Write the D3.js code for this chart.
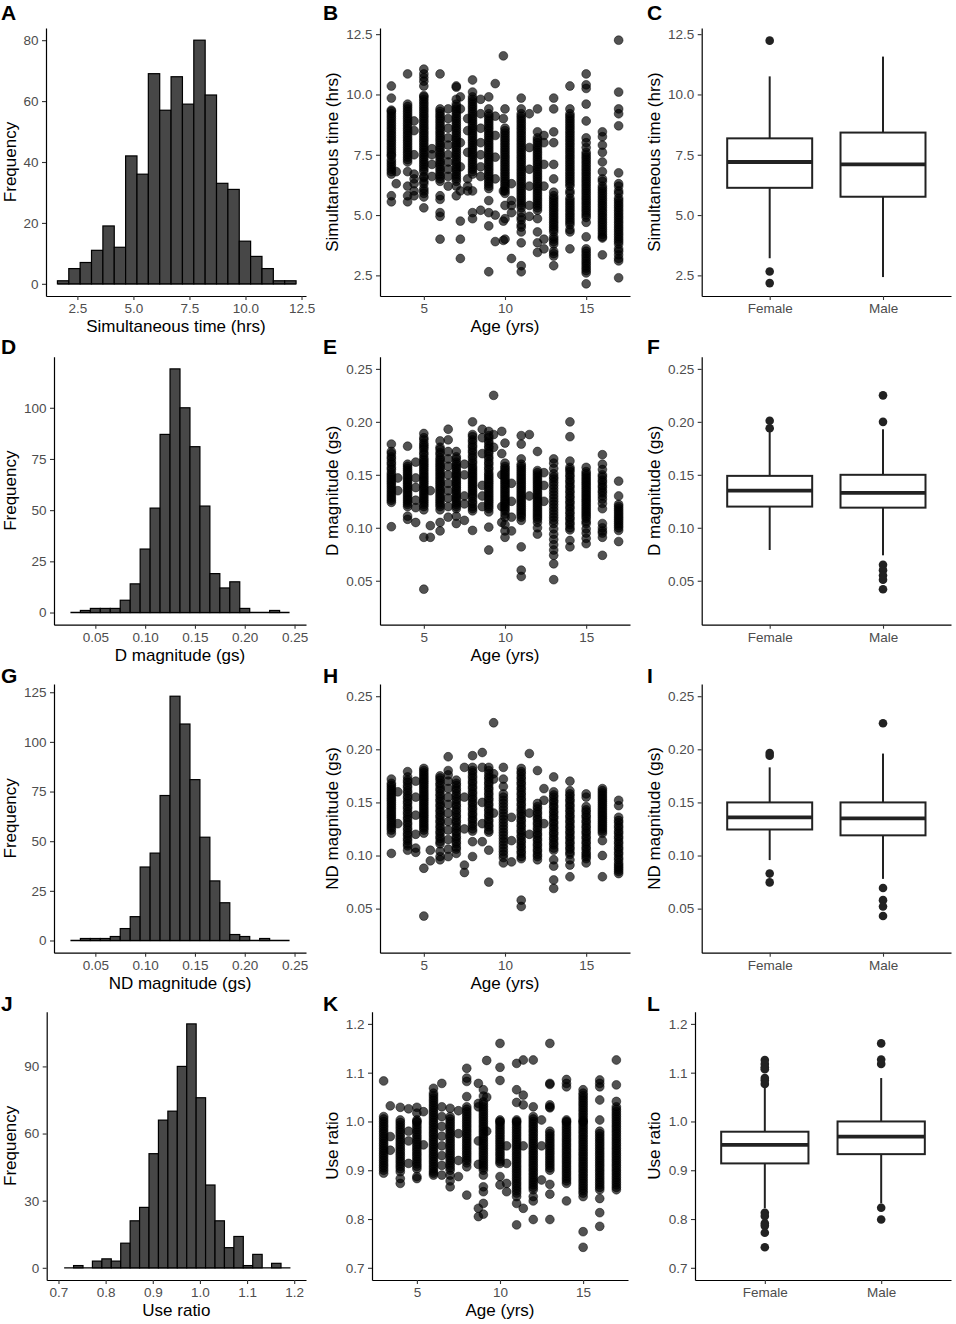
<!DOCTYPE html>
<html>
<head>
<meta charset="utf-8">
<script src="https://cdnjs.cloudflare.com/ajax/libs/d3/7.8.5/d3.min.js"></script>
<style>
  body { margin: 0; background: #fff; }
  svg { font-family: "Liberation Sans", Arial, sans-serif; }
</style>
</head>
<body>
<svg id="fig" width="956" height="1324"></svg>
<script>
// ---- histogram counts ----
const simCounts = [1,5,7,11,19,12,42,36,69,57,68,59,80,62,33,31,14,9,5,1,1];
const simBinStart = 1.61, simBinWidth = 0.507;
const dCounts = [0,1,2,2,2,6,14,31,51,87,119,100,81,52,19,12,15,2,0,0,1,0];
const ndCounts = [0,1,1,1,2,6,12,37,44,73,123,109,81,52,30,19,3,2,0,1,0,0];
const magBinStart = 0.025, magBinWidth = 0.01;
const ratioCounts = [0,1,0,3,4,3,11,21,27,51,66,70,90,109,76,37,21,9,14,1,6,0,2,0];
const ratioBinStart = 0.712, ratioBinWidth = 0.02;

// ---- scatter: [age, values at that age] ----
const simByAge = [
  [3, [10.35,9.85,9.35,9.2,9.0,8.8,8.6,8.4,8.2,8.0,7.8,7.6,7.45,7.3,7.1,6.9,6.7,5.8,5.55]],
  [3.3, [6.8,6.3]],
  [4, [10.85,9.6,9.4,9.2,9.0,8.8,8.6,8.4,8.2,8.0,7.8,7.6,7.4,7.2,6.8,6.2,5.8,5.55]],
  [4.4, [8.9,8.5,7.5,6.7,6.5,6.3,6.0,5.8]],
  [5, [11.05,10.85,10.7,10.55,10.35,9.95,9.8,9.6,9.4,9.2,9.0,8.8,8.6,8.4,8.2,8.0,7.8,7.6,7.4,7.2,7.0,6.8,6.55,6.3,6.0,5.75,5.3]],
  [5.5, [7.75,7.5,7.1,6.6]],
  [6, [10.85,9.4,9.2,9.0,8.8,8.6,8.4,8.2,8.0,7.8,7.6,7.4,7.2,7.0,6.8,6.6,6.4,5.8,5.65,5.1,4.95,4.0]],
  [6.5, [9.4,9.0,8.6,8.2,7.9,7.5,7.2,6.9,6.6,6.2]],
  [7, [10.35,10.3,9.8,9.6,9.4,9.2,9.0,8.8,8.6,8.4,8.2,8.0,7.8,7.6,7.4,7.2,7.0,6.8,6.6,6.4,6.2,5.8]],
  [7.25, [9.9,9.4,8.0,7.0,6.0,4.75,4.0,3.2]],
  [7.7, [9.0,8.5,7.6,6.5,6.2,6.0]],
  [8, [10.6,10.1,9.9,9.7,9.5,9.3,9.1,8.9,8.7,8.5,8.3,8.1,7.9,7.7,7.5,7.3,7.1,6.9,6.7,6.0,5.1,4.85]],
  [8.5, [9.8,9.2,8.6,8.0,7.5,7.0,6.6,5.2]],
  [9, [9.9,9.4,9.2,9.0,8.8,8.6,8.4,8.2,8.0,7.8,7.6,7.4,7.2,7.0,6.8,6.6,6.4,6.2,5.6,5.1,4.55,2.65]],
  [9.4, [10.45,9.1,8.3,7.4,6.5,5.0,3.9]],
  [9.9, [11.6,9.0,6.0,4.75,3.95]],
  [10, [9.4,8.6,8.4,8.2,8.0,7.8,7.6,7.4,7.2,7.0,6.8,6.6,6.4,6.2,6.0,5.4,4.85,4.0]],
  [10.4, [6.3,5.6,5.4,5.1,3.2]],
  [11, [9.85,9.4,9.2,9.0,8.8,8.6,8.4,8.2,8.0,7.8,7.6,7.4,7.2,7.0,6.8,6.6,6.4,6.2,6.0,5.8,5.6,5.4,5.1,4.8,4.5,4.3,3.85,2.9,2.65]],
  [11.5, [9.2,7.8,6.9,6.2,5.4,4.95]],
  [12, [9.4,8.45,8.2,8.0,7.8,7.6,7.4,7.2,7.0,6.8,6.6,6.4,6.2,6.0,5.8,5.6,5.4,5.2,4.85,4.3,3.85,3.45]],
  [12.4, [8.3,8.0,7.1,6.2,4.0,3.6]],
  [13, [9.85,9.4,8.45,8.0,7.1,6.5,5.95,5.7,5.5,5.3,5.1,4.9,4.7,4.5,4.3,4.0,3.8,3.5,3.3,2.9]],
  [14, [10.35,9.4,9.2,9.0,8.8,8.6,8.4,8.2,8.0,7.8,7.6,7.4,7.2,7.0,6.8,6.6,6.4,6.2,5.9,5.6,5.4,5.2,5.0,4.8,4.6,4.3,3.6]],
  [15, [10.85,10.4,10.25,9.6,8.9,8.2,8.0,7.8,7.6,7.4,7.2,7.0,6.8,6.6,6.4,6.2,6.0,5.8,5.6,5.4,5.2,5.0,4.7,4.1,3.6,3.4,3.2,3.0,2.8,2.6,2.15]],
  [16, [8.45,8.25,7.9,7.6,7.2,6.8,6.5,6.2,6.0,5.8,5.6,5.4,5.2,5.0,4.8,4.6,4.4,4.2,4.05,3.35]],
  [17, [12.25,10.1,9.4,9.2,8.7,6.75,6.3,6.0,5.7,5.5,5.3,5.1,4.9,4.7,4.5,4.3,4.1,3.9,3.6,3.35,3.1,2.4]]
];
// the black cores of the age columns hold many more children
const simByAgeCore = [
  [3, [9.3,9.1,8.9,8.7,8.5,8.3,8.1,7.9,7.7,7.5,7.2,7.0,6.8]],
  [4, [9.5,9.3,9.1,8.9,8.7,8.5,8.3,8.1,7.9,7.7,7.5,7.3]],
  [5, [9.9,9.7,9.5,9.3,9.1,8.9,8.7,8.5,8.3,8.1,7.9,7.7,7.5,7.3,7.1,6.9,6.6,6.4,6.1,5.9]],
  [6, [9.3,9.1,8.9,8.7,8.5,8.3,8.1,7.9,7.7,7.5,7.3,7.1,6.9,6.7,6.5]],
  [7, [9.5,9.3,9.1,8.9,8.7,8.5,8.3,8.1,7.9,7.7,7.5,7.3,7.1,6.9,6.7,6.5]],
  [8, [9.8,9.6,9.4,9.2,9.0,8.8,8.6,8.4,8.2,8.0,7.8,7.6,7.4,7.2,7.0,6.8]],
  [9, [9.1,8.9,8.7,8.5,8.3,8.1,7.9,7.7,7.5,7.3,7.1,6.9,6.7,6.5,6.3,6.1]],
  [10, [8.5,8.3,8.1,7.9,7.7,7.5,7.3,7.1,6.9,6.7,6.5,6.3,6.1,5.9]],
  [11, [9.1,8.9,8.7,8.5,8.3,8.1,7.9,7.7,7.5,7.3,7.1,6.9,6.7,6.5,6.3,6.1,5.9,5.7,5.5,5.3,4.9,4.6]],
  [12, [8.1,7.9,7.7,7.5,7.3,7.1,6.9,6.7,6.5,6.3,6.1,5.9,5.7,5.5,5.3]],
  [13, [5.8,5.6,5.4,5.2,5.0,4.8,4.6,4.4,4.1,3.9,3.4]],
  [14, [9.1,8.9,8.7,8.5,8.3,8.1,7.9,7.7,7.5,7.3,7.1,6.9,6.7,6.5,6.3,6.0,5.7,5.5,5.3,5.1,4.9,4.7,4.4]],
  [15, [7.5,7.3,7.1,6.9,6.7,6.5,6.3,6.1,5.9,5.7,5.5,5.3,5.1,4.9,3.5,3.3,3.1,2.9,2.7]],
  [16, [6.4,6.1,5.9,5.7,5.5,5.3,5.1,4.9,4.7,4.5,4.3,4.1]],
  [17, [6.2,5.9,5.6,5.4,5.2,5.0,4.8,4.6,4.4,4.2,4.0,3.8,3.5,3.2]]
];
const dByAge = [
  [3, [0.179,0.172,0.167,0.162,0.157,0.152,0.148,0.144,0.14,0.136,0.132,0.128,0.124,0.101]],
  [3.4, [0.147,0.135]],
  [4, [0.177,0.16,0.156,0.152,0.148,0.144,0.14,0.136,0.132,0.128,0.124,0.12,0.111,0.108]],
  [4.5, [0.162,0.147,0.138,0.126,0.119,0.105]],
  [5, [0.189,0.185,0.18,0.176,0.171,0.166,0.162,0.158,0.154,0.15,0.146,0.142,0.138,0.134,0.13,0.126,0.122,0.117,0.091,0.042]],
  [5.4, [0.102,0.091,0.135]],
  [6, [0.182,0.176,0.171,0.166,0.162,0.158,0.154,0.15,0.146,0.142,0.138,0.134,0.13,0.126,0.122,0.117,0.105,0.097]],
  [6.5, [0.193,0.183,0.172,0.165,0.158,0.15,0.142,0.135,0.128,0.12,0.11]],
  [7, [0.172,0.167,0.162,0.158,0.154,0.15,0.146,0.142,0.138,0.134,0.13,0.126,0.122,0.118,0.111,0.104]],
  [7.5, [0.16,0.15,0.13,0.1225,0.107]],
  [8, [0.2,0.188,0.183,0.178,0.173,0.168,0.163,0.158,0.154,0.15,0.146,0.142,0.138,0.134,0.13,0.125,0.12,0.116,0.0975]],
  [8.6, [0.193,0.185,0.17,0.14,0.13,0.12]],
  [9, [0.191,0.187,0.182,0.177,0.172,0.167,0.162,0.157,0.152,0.148,0.144,0.14,0.136,0.132,0.128,0.124,0.12,0.115,0.1006,0.079]],
  [9.3, [0.225,0.188,0.176]],
  [9.8, [0.191,0.17,0.15,0.12,0.105]],
  [10, [0.18,0.161,0.156,0.152,0.148,0.144,0.14,0.136,0.132,0.128,0.124,0.12,0.116,0.11,0.103,0.097,0.091]],
  [10.4, [0.142,0.125,0.11,0.097]],
  [11, [0.187,0.179,0.165,0.16,0.156,0.152,0.148,0.144,0.14,0.136,0.132,0.128,0.124,0.12,0.116,0.112,0.107,0.082,0.06,0.054]],
  [11.5, [0.188,0.13]],
  [12, [0.172,0.154,0.15,0.146,0.142,0.138,0.134,0.13,0.126,0.122,0.118,0.114,0.11,0.105,0.1,0.094]],
  [12.4, [0.152,0.14,0.125]],
  [13, [0.165,0.161,0.156,0.151,0.146,0.14,0.134,0.128,0.122,0.116,0.11,0.104,0.099,0.094,0.089,0.084,0.079,0.074,0.066,0.051]],
  [14, [0.2,0.186,0.163,0.157,0.153,0.148,0.143,0.138,0.133,0.128,0.123,0.118,0.113,0.108,0.103,0.098,0.088,0.082]],
  [15, [0.157,0.153,0.149,0.145,0.141,0.137,0.133,0.129,0.125,0.121,0.117,0.113,0.109,0.104,0.099,0.095,0.09,0.085]],
  [16, [0.169,0.16,0.155,0.15,0.145,0.14,0.135,0.13,0.123,0.118,0.104,0.1,0.095,0.091,0.074]],
  [17, [0.144,0.13,0.122,0.118,0.114,0.11,0.106,0.102,0.0975,0.087]]
];
const dByAgeCore = [
  [3, [0.17,0.165,0.16,0.155,0.15,0.146,0.142,0.138,0.134,0.13,0.126]],
  [4, [0.158,0.154,0.15,0.146,0.142,0.138,0.134,0.13,0.126,0.122]],
  [5, [0.183,0.178,0.174,0.169,0.164,0.16,0.156,0.152,0.148,0.144,0.14,0.136,0.132,0.128,0.124,0.12]],
  [6, [0.174,0.169,0.164,0.16,0.156,0.152,0.148,0.144,0.14,0.136,0.132,0.128,0.124,0.12]],
  [7, [0.165,0.16,0.156,0.152,0.148,0.144,0.14,0.136,0.132,0.128,0.124,0.12]],
  [8, [0.186,0.181,0.176,0.171,0.166,0.161,0.156,0.152,0.148,0.144,0.14,0.136,0.132,0.128,0.123,0.118]],
  [9, [0.185,0.18,0.175,0.17,0.165,0.16,0.155,0.15,0.146,0.142,0.138,0.134,0.13,0.126,0.122,0.118]],
  [10, [0.158,0.154,0.15,0.146,0.142,0.138,0.134,0.13,0.126,0.122,0.118,0.113]],
  [11, [0.158,0.154,0.15,0.146,0.142,0.138,0.134,0.13,0.126,0.122,0.118,0.114,0.11]],
  [12, [0.152,0.148,0.144,0.14,0.136,0.132,0.128,0.124,0.12,0.116,0.112,0.108]],
  [13, [0.148,0.143,0.137,0.131,0.125,0.119,0.113,0.107]],
  [14, [0.155,0.15,0.145,0.14,0.135,0.13,0.125,0.12,0.115,0.11,0.105,0.1]],
  [15, [0.151,0.147,0.143,0.139,0.135,0.131,0.127,0.123,0.119,0.115,0.111,0.106]],
  [16, [0.148,0.143,0.138,0.133,0.127,0.097]],
  [17, [0.12,0.116,0.112,0.108,0.104,0.1]]
];
const ndByAge = [
  [3, [0.172,0.168,0.164,0.16,0.156,0.152,0.148,0.144,0.14,0.136,0.132,0.128,0.124,0.121,0.102]],
  [3.4, [0.16,0.13]],
  [4, [0.179,0.174,0.169,0.164,0.159,0.154,0.149,0.144,0.139,0.134,0.129,0.124,0.119,0.114,0.109,0.105]],
  [4.5, [0.17,0.155,0.138,0.12,0.107,0.103]],
  [5, [0.182,0.178,0.174,0.17,0.166,0.162,0.158,0.154,0.15,0.146,0.142,0.138,0.134,0.13,0.126,0.121,0.088,0.043]],
  [5.4, [0.105,0.095]],
  [6, [0.175,0.171,0.166,0.161,0.156,0.151,0.146,0.141,0.136,0.131,0.126,0.121,0.116,0.111,0.104,0.099,0.096]],
  [6.5, [0.193,0.18,0.176,0.17,0.163,0.155,0.148,0.14,0.132,0.124,0.115,0.106,0.099]],
  [7, [0.171,0.166,0.161,0.156,0.151,0.146,0.141,0.136,0.131,0.126,0.121,0.116,0.111,0.106,0.102]],
  [7.5, [0.183,0.155,0.125,0.091,0.084]],
  [8, [0.194,0.183,0.178,0.173,0.168,0.163,0.158,0.153,0.148,0.143,0.138,0.133,0.128,0.123,0.113,0.099]],
  [8.6, [0.197,0.183,0.15,0.13,0.113]],
  [9, [0.183,0.177,0.172,0.167,0.162,0.157,0.152,0.147,0.142,0.137,0.132,0.127,0.122,0.105,0.075]],
  [9.3, [0.225,0.177,0.172,0.14]],
  [9.9, [0.183,0.172,0.165,0.158,0.152,0.146,0.14,0.134,0.128,0.122,0.116,0.11,0.104,0.098,0.093]],
  [10.4, [0.136,0.114,0.094]],
  [11, [0.182,0.177,0.172,0.167,0.162,0.157,0.152,0.147,0.142,0.137,0.132,0.127,0.122,0.117,0.112,0.107,0.102,0.097,0.058,0.052]],
  [11.5, [0.196,0.14,0.12]],
  [12, [0.18,0.149,0.144,0.139,0.134,0.129,0.124,0.119,0.114,0.109,0.104,0.099,0.096]],
  [12.4, [0.163,0.152,0.13]],
  [13, [0.174,0.16,0.155,0.15,0.145,0.14,0.135,0.13,0.125,0.12,0.115,0.11,0.105,0.096,0.09,0.077,0.069]],
  [14, [0.17,0.161,0.156,0.151,0.146,0.141,0.136,0.131,0.126,0.121,0.116,0.111,0.106,0.101,0.096,0.091,0.08]],
  [15, [0.158,0.155,0.146,0.141,0.136,0.131,0.126,0.121,0.116,0.111,0.106,0.101,0.097,0.093]],
  [16, [0.163,0.159,0.155,0.151,0.147,0.143,0.139,0.135,0.131,0.127,0.123,0.114,0.1,0.08]],
  [17, [0.152,0.147,0.136,0.131,0.126,0.121,0.116,0.111,0.106,0.101,0.096,0.091,0.087,0.083]]
];
const ndByAgeCore = [
  [3, [0.166,0.162,0.158,0.154,0.15,0.146,0.142,0.138,0.134,0.13,0.126]],
  [4, [0.171,0.166,0.161,0.156,0.151,0.146,0.141,0.136,0.131,0.126,0.121,0.116,0.111]],
  [5, [0.18,0.176,0.172,0.168,0.164,0.16,0.156,0.152,0.148,0.144,0.14,0.136,0.132,0.128,0.124]],
  [6, [0.173,0.168,0.163,0.158,0.153,0.148,0.143,0.138,0.133,0.128,0.123,0.118,0.113]],
  [7, [0.168,0.163,0.158,0.153,0.148,0.143,0.138,0.133,0.128,0.123,0.118,0.113,0.108]],
  [8, [0.18,0.175,0.17,0.165,0.16,0.155,0.15,0.145,0.14,0.135,0.13,0.125]],
  [9, [0.18,0.174,0.169,0.164,0.159,0.154,0.149,0.144,0.139,0.134,0.129,0.124]],
  [9.9, [0.155,0.149,0.143,0.137,0.131,0.125,0.119,0.113,0.107,0.101]],
  [11, [0.179,0.174,0.169,0.164,0.159,0.154,0.149,0.144,0.139,0.134,0.129,0.124,0.119,0.114,0.109,0.104,0.099]],
  [12, [0.146,0.141,0.136,0.131,0.126,0.121,0.116,0.111,0.106,0.101]],
  [13, [0.157,0.152,0.147,0.142,0.137,0.132,0.127,0.122,0.117,0.112,0.107]],
  [14, [0.158,0.153,0.148,0.143,0.138,0.133,0.128,0.123,0.118,0.113,0.108,0.103]],
  [15, [0.143,0.138,0.133,0.128,0.123,0.118,0.113,0.108,0.103,0.099]],
  [16, [0.161,0.157,0.153,0.149,0.145,0.141,0.137,0.133,0.129,0.125,0.121]],
  [17, [0.133,0.128,0.123,0.118,0.113,0.108,0.103,0.098,0.093,0.089,0.085]]
];
const ratioByAge = [
  [3, [1.083,1.01,1.0,0.99,0.98,0.97,0.96,0.95,0.94,0.93,0.92,0.91,0.9,0.894]],
  [3.4, [1.032,0.969,0.941]],
  [4, [1.029,1.003,0.993,0.983,0.973,0.963,0.953,0.943,0.933,0.923,0.913,0.903,0.897,0.883,0.873]],
  [4.5, [1.026,0.98,0.96,0.914]],
  [5, [1.029,1.017,1.003,0.993,0.983,0.973,0.963,0.953,0.943,0.933,0.923,0.913,0.903,0.887,0.883]],
  [5.4, [1.02,0.952]],
  [6, [1.068,1.058,1.048,1.038,1.028,1.018,1.008,0.998,0.988,0.978,0.968,0.958,0.948,0.938,0.928,0.918,0.908,0.898,0.89]],
  [6.5, [1.078,1.03,1.01,0.99,0.97,0.95,0.93,0.91,0.89]],
  [7, [1.027,1.01,1.0,0.99,0.98,0.97,0.96,0.95,0.94,0.93,0.92,0.91,0.9,0.89,0.878,0.866]],
  [7.5, [1.022,0.975,0.92,0.887]],
  [8, [1.109,1.089,1.082,1.051,1.03,1.02,1.01,1.0,0.99,0.98,0.97,0.96,0.95,0.94,0.93,0.92,0.907,0.849]],
  [8.7, [1.078,1.037,1.03,0.96,0.912,0.822,0.805]],
  [9, [1.065,1.052,1.04,1.03,1.02,1.01,1.0,0.99,0.98,0.97,0.96,0.95,0.94,0.93,0.92,0.91,0.9,0.89,0.866,0.856,0.832,0.81]],
  [9.2, [1.125,1.05,0.98]],
  [10, [1.16,1.111,1.084,1.003,0.993,0.983,0.973,0.963,0.953,0.943,0.933,0.923,0.914,0.887,0.87]],
  [10.4, [0.95,0.914,0.873,0.856]],
  [11, [1.119,1.065,1.039,1.003,0.993,0.983,0.973,0.963,0.953,0.943,0.933,0.923,0.913,0.903,0.893,0.883,0.873,0.863,0.853,0.846,0.832,0.788]],
  [11.4, [1.126,1.054,1.034,0.95,0.822]],
  [12, [1.126,1.03,1.01,1.0,0.99,0.98,0.97,0.96,0.95,0.94,0.93,0.92,0.91,0.9,0.89,0.88,0.87,0.86,0.846,0.837,0.799]],
  [12.5, [1.003,0.95,0.88]],
  [13, [1.16,1.076,1.034,1.03,0.98,0.97,0.96,0.95,0.94,0.93,0.92,0.91,0.9,0.871,0.851,0.799]],
  [14, [1.086,1.078,1.071,1.003,0.993,0.983,0.973,0.963,0.953,0.943,0.933,0.923,0.913,0.903,0.893,0.883,0.873,0.837]],
  [15, [1.065,1.058,1.048,1.038,1.028,1.018,1.008,0.998,0.988,0.978,0.968,0.958,0.948,0.938,0.928,0.918,0.908,0.898,0.888,0.878,0.868,0.858,0.846,0.774,0.742]],
  [16, [1.085,1.071,1.044,1.003,0.98,0.97,0.96,0.95,0.94,0.93,0.92,0.91,0.9,0.89,0.88,0.87,0.86,0.842,0.813,0.785]],
  [17, [1.126,1.075,1.041,1.03,1.02,1.01,1.0,0.99,0.98,0.97,0.96,0.95,0.94,0.93,0.92,0.91,0.9,0.89,0.88,0.87,0.86]]
];
const ratioByAgeCore = [
  [3, [1.005,0.995,0.985,0.975,0.965,0.955,0.945,0.935,0.925,0.915,0.905]],
  [4, [0.998,0.988,0.978,0.968,0.958,0.948,0.938,0.928,0.918,0.908]],
  [5, [1.0,0.998,0.988,0.978,0.968,0.958,0.948,0.938,0.928,0.918,0.908]],
  [6, [1.053,1.043,1.033,1.023,1.013,1.003,0.993,0.983,0.973,0.963,0.953,0.943,0.933,0.923,0.913,0.903,0.894]],
  [7, [1.005,0.995,0.985,0.975,0.965,0.955,0.945,0.935,0.925,0.915,0.905]],
  [8, [1.025,1.015,1.005,0.995,0.985,0.975,0.965,0.955,0.945,0.935,0.925,0.915]],
  [9, [1.035,1.025,1.015,1.005,0.995,0.985,0.975,0.965,0.955,0.945,0.935,0.925,0.915,0.905]],
  [10, [1.0,0.998,0.988,0.978,0.968,0.958,0.948,0.938,0.928,0.918]],
  [11, [1.0,0.998,0.988,0.978,0.968,0.958,0.948,0.938,0.928,0.918,0.908,0.898,0.888,0.878,0.868,0.858]],
  [12, [1.005,0.995,0.985,0.975,0.965,0.955,0.945,0.935,0.925,0.915,0.905,0.895,0.885,0.875,0.865]],
  [13, [0.975,0.965,0.955,0.945,0.935,0.925,0.915,0.905,1.078,1.028]],
  [14, [1.0,0.998,0.988,0.978,0.968,0.958,0.948,0.938,0.928,0.918,0.908,0.898,0.888,0.878]],
  [15, [1.0,1.053,1.043,1.033,1.023,1.013,1.003,0.993,0.983,0.973,0.963,0.953,0.943,0.933,0.923,0.913,0.903,0.893,0.883,0.873,0.863,0.853]],
  [16, [0.975,0.965,0.955,0.945,0.935,0.925,0.915,0.905,0.895,0.885,0.875,0.865,1.078]],
  [17, [1.025,1.015,1.005,0.995,0.985,0.975,0.965,0.955,0.945,0.935,0.925,0.915,0.905,0.895,0.885,0.875,0.865]]
];

// ---- boxplots by sex ----
const sexes = ["Female", "Male"];
const simBox = [
  {lo: 3.21, q1: 6.13, med: 7.2, q3: 8.18, hi: 10.75, out: [12.23, 2.66, 2.18]},
  {lo: 2.43, q1: 5.76, med: 7.1, q3: 8.42, hi: 11.57, out: []}
];
const dBox = [
  {lo: 0.079, q1: 0.12, med: 0.135, q3: 0.149, hi: 0.191, out: [0.201, 0.194]},
  {lo: 0.074, q1: 0.119, med: 0.133, q3: 0.15, hi: 0.193, out: [0.225, 0.2, 0.065, 0.06, 0.055, 0.051, 0.042]}
];
const ndBox = [
  {lo: 0.0957, q1: 0.1245, med: 0.136, q3: 0.15, hi: 0.183, out: [0.1965, 0.194, 0.083, 0.0747]},
  {lo: 0.078, q1: 0.119, med: 0.135, q3: 0.15, hi: 0.196, out: [0.2246, 0.0694, 0.058, 0.052, 0.043]}
];
const ratioBox = [
  {lo: 0.822, q1: 0.914, med: 0.952, q3: 0.979, hi: 1.071, out: [1.126, 1.118, 1.111, 1.107, 1.089, 1.084, 1.077, 0.813, 0.806, 0.791, 0.786, 0.772, 0.742]},
  {lo: 0.832, q1: 0.933, med: 0.969, q3: 1.0, hi: 1.089, out: [1.16, 1.127, 1.118, 0.823, 0.799]}
];

// ---- tick labels ----
const simTicks = [2.5, 5, 7.5, 10, 12.5];
const magTicks = [0.05, 0.10, 0.15, 0.20, 0.25];
const ratioTicks = [0.7, 0.8, 0.9, 1.0, 1.1, 1.2];
const ageTicks = [5, 10, 15];

const svg = d3.select("#fig");
const FONT = "Liberation Sans, Arial, sans-serif";

// panel rows (plot area top / bottom)
const rows = [
  {top: 28, bottom: 296, letterY: 20},
  {top: 356.7, bottom: 624.7, letterY: 353.5},
  {top: 684, bottom: 952.7, letterY: 682.5},
  {top: 1011.7, bottom: 1280, letterY: 1010.5}
];

function styleAxis(g) {
  g.attr("font-family", FONT).attr("font-size", 13.5);
  g.select(".domain").attr("stroke", "#000").attr("stroke-width", 1.2);
  g.selectAll(".tick line").attr("stroke", "#333").attr("stroke-width", 1.1);
  g.selectAll(".tick text").attr("fill", "#4d4d4d");
}

function frame(r, left, right, x, y, o) {
  const gx = svg.append("g").attr("transform", `translate(0,${r.bottom})`)
    .call(d3.axisBottom(x).tickValues(o.xTicks).tickFormat(o.xFmt).tickSize(4).tickSizeOuter(0).tickPadding(3.5));
  styleAxis(gx);
  const gy = svg.append("g").attr("transform", `translate(${left},0)`)
    .call(d3.axisLeft(y).tickValues(o.yTicks).tickFormat(o.yFmt).tickSize(4).tickSizeOuter(0).tickPadding(3.5));
  styleAxis(gy);
  svg.append("text").attr("x", (left + right) / 2).attr("y", r.bottom + 36)
    .attr("text-anchor", "middle").attr("font-size", 17).attr("fill", "#000").text(o.xTitle);
  svg.append("text").attr("transform", `translate(${o.yTitleX},${(r.top + r.bottom) / 2}) rotate(-90)`)
    .attr("text-anchor", "middle").attr("font-size", 17).attr("fill", "#000").text(o.yTitle);
  svg.append("text").attr("x", o.letterX).attr("y", r.letterY)
    .attr("font-size", 21).attr("font-weight", "bold").attr("fill", "#000").text(o.letter);
}

function histPanel(o) {
  const r = rows[o.row];
  const x = d3.scaleLinear().domain(o.xDomain).range([o.left, 306]);
  const ymax = d3.max(o.counts);
  const y = d3.scaleLinear().domain([-0.05 * ymax, 1.05 * ymax]).range([r.bottom, r.top]);
  const bins = o.counts.map((c, i) => ({x0: o.start + i * o.width, x1: o.start + (i + 1) * o.width, c}));
  svg.append("line")
    .attr("x1", x(bins[0].x0)).attr("x2", x(bins[bins.length - 1].x1))
    .attr("y1", y(0)).attr("y2", y(0)).attr("stroke", "#000").attr("stroke-width", 1.3);
  svg.append("g").selectAll("rect").data(bins.filter(b => b.c > 0)).join("rect")
    .attr("x", b => x(b.x0)).attr("width", b => x(b.x1) - x(b.x0))
    .attr("y", b => y(b.c)).attr("height", b => y(0) - y(b.c))
    .attr("fill", "#474747").attr("stroke", "#000").attr("stroke-width", 1.2);
  frame(r, o.left, 306, x, y, {
    xTicks: o.xTicks, xFmt: o.xFmt, yTicks: o.yTicks, yFmt: d3.format("d"),
    xTitle: o.xTitle, yTitle: "Frequency", yTitleX: 15.5, letterX: 1, letter: o.letter
  });
}

function scatterPanel(o) {
  const r = rows[o.row];
  const right = o.right;
  const x = d3.scaleLinear().domain([2.3, 17.7]).range([o.left, right]);
  const y = d3.scaleLinear().domain(o.yDomain).range([r.bottom, r.top]);
  const pts = o.data.concat(o.core).flatMap(([age, vals]) => vals.map(v => ({age, v})));
  svg.append("g").selectAll("circle").data(pts).join("circle")
    .attr("cx", d => x(d.age)).attr("cy", d => y(d.v)).attr("r", 4.4)
    .attr("fill", "#000").attr("fill-opacity", 0.68)
    .attr("stroke", "#000").attr("stroke-opacity", 0.6).attr("stroke-width", 0.8);
  frame(r, o.left, right, x, y, {
    xTicks: ageTicks, xFmt: d3.format("d"), yTicks: o.yTicks, yFmt: o.yFmt,
    xTitle: "Age (yrs)", yTitle: o.yTitle, yTitleX: 338.3, letterX: 323, letter: o.letter
  });
}

function boxPanel(o) {
  const r = rows[o.row];
  const x = d3.scaleLinear().domain([0.4, 2.6]).range([o.left, 951]);
  const y = d3.scaleLinear().domain(o.yDomain).range([r.bottom, r.top]);
  const half = x(1.375) - x(1);
  const g = svg.append("g").attr("stroke", "#222");
  o.stats.forEach((s, i) => {
    const cx = x(i + 1);
    g.append("line").attr("x1", cx).attr("x2", cx).attr("y1", y(s.hi)).attr("y2", y(s.q3)).attr("stroke-width", 2);
    g.append("line").attr("x1", cx).attr("x2", cx).attr("y1", y(s.q1)).attr("y2", y(s.lo)).attr("stroke-width", 2);
    g.append("rect").attr("x", cx - half).attr("width", 2 * half)
      .attr("y", y(s.q3)).attr("height", y(s.q1) - y(s.q3))
      .attr("fill", "#fff").attr("stroke-width", 2);
    g.append("line").attr("x1", cx - half).attr("x2", cx + half)
      .attr("y1", y(s.med)).attr("y2", y(s.med)).attr("stroke-width", 3.8);
    g.selectAll(null).data(s.out).join("circle")
      .attr("cx", cx).attr("cy", d => y(d)).attr("r", 4.3)
      .attr("fill", "#222").attr("stroke", "none");
  });
  frame(r, o.left, 951, x, y, {
    xTicks: [1, 2], xFmt: (d, i) => sexes[i], yTicks: o.yTicks, yFmt: o.yFmt,
    xTitle: "", yTitle: o.yTitle, yTitleX: 660, letterX: 647, letter: o.letter
  });
}

const f1 = d3.format(".1f"), f2 = d3.format(".2f");
const simDom = [1.645, 12.755], magDom = [0.0085, 0.2615], ratioDom = [0.675, 1.225];

histPanel({row: 0, letter: "A", counts: simCounts, start: simBinStart, width: simBinWidth,
  left: 46, xDomain: [1.1, 12.7], xTicks: simTicks, xFmt: f1, yTicks: [0, 20, 40, 60, 80],
  xTitle: "Simultaneous time (hrs)"});
histPanel({row: 1, letter: "D", counts: dCounts, start: magBinStart, width: magBinWidth,
  left: 54, xDomain: magDom, xTicks: magTicks, xFmt: f2, yTicks: [0, 25, 50, 75, 100],
  xTitle: "D magnitude (gs)"});
histPanel({row: 2, letter: "G", counts: ndCounts, start: magBinStart, width: magBinWidth,
  left: 54, xDomain: magDom, xTicks: magTicks, xFmt: f2, yTicks: [0, 25, 50, 75, 100, 125],
  xTitle: "ND magnitude (gs)"});
histPanel({row: 3, letter: "J", counts: ratioCounts, start: ratioBinStart, width: ratioBinWidth,
  left: 46.7, xDomain: ratioDom, xTicks: ratioTicks, xFmt: f1, yTicks: [0, 30, 60, 90],
  xTitle: "Use ratio"});

scatterPanel({row: 0, letter: "B", data: simByAge, core: simByAgeCore, left: 380, right: 630, yDomain: simDom,
  yTicks: simTicks, yFmt: f1, yTitle: "Simultaneous time (hrs)"});
scatterPanel({row: 1, letter: "E", data: dByAge, core: dByAgeCore, left: 380, right: 630, yDomain: magDom,
  yTicks: magTicks, yFmt: f2, yTitle: "D magnitude (gs)"});
scatterPanel({row: 2, letter: "H", data: ndByAge, core: ndByAgeCore, left: 380, right: 630, yDomain: magDom,
  yTicks: magTicks, yFmt: f2, yTitle: "ND magnitude (gs)"});
scatterPanel({row: 3, letter: "K", data: ratioByAge, core: ratioByAgeCore, left: 372, right: 628, yDomain: ratioDom,
  yTicks: ratioTicks, yFmt: f1, yTitle: "Use ratio"});

boxPanel({row: 0, letter: "C", stats: simBox, left: 701.7, yDomain: simDom,
  yTicks: simTicks, yFmt: f1, yTitle: "Simultaneous time (hrs)"});
boxPanel({row: 1, letter: "F", stats: dBox, left: 701.7, yDomain: magDom,
  yTicks: magTicks, yFmt: f2, yTitle: "D magnitude (gs)"});
boxPanel({row: 2, letter: "I", stats: ndBox, left: 701.7, yDomain: magDom,
  yTicks: magTicks, yFmt: f2, yTitle: "ND magnitude (gs)"});
boxPanel({row: 3, letter: "L", stats: ratioBox, left: 695, yDomain: ratioDom,
  yTicks: ratioTicks, yFmt: f1, yTitle: "Use ratio"});
</script>
</body>
</html>
